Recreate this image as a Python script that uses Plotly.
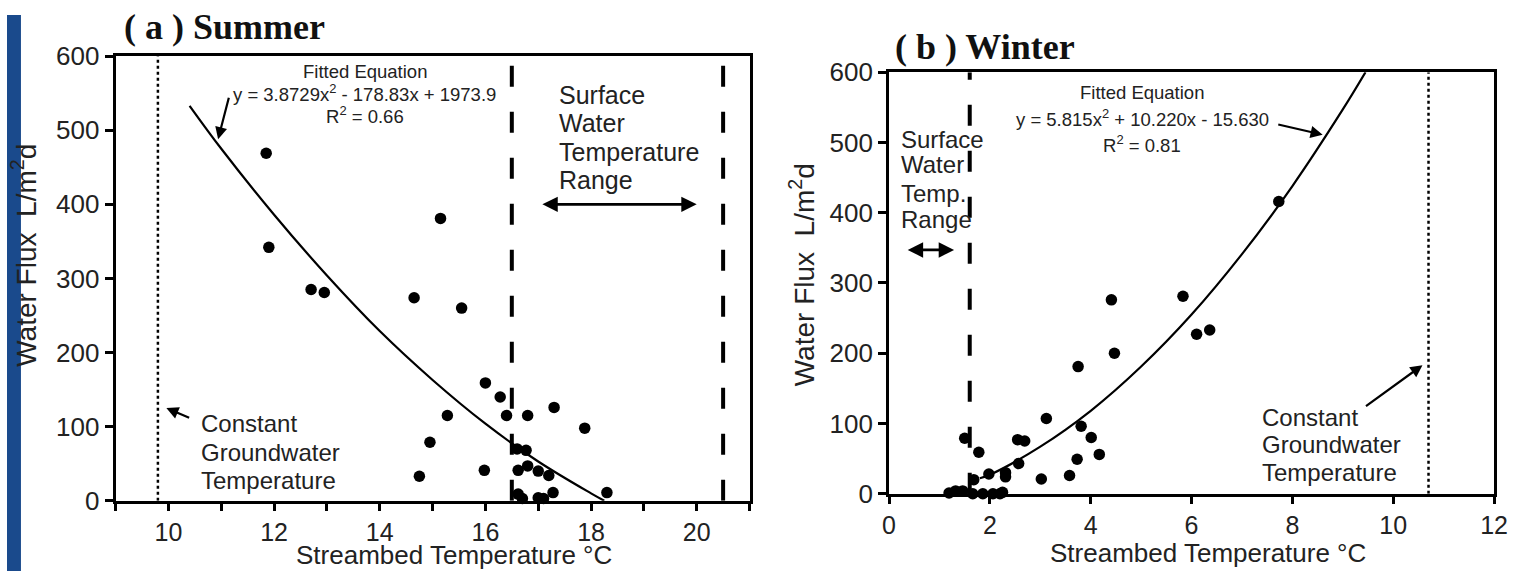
import plotly.graph_objects as go

# ---------------- data ----------------
summer_temp = [11.85, 11.9, 12.7, 12.95, 14.65, 15.15, 15.55, 16.0, 16.28, 15.28, 16.4, 16.8,
               17.3, 17.88, 14.95, 14.75, 15.98, 16.6, 16.77, 16.8, 16.62, 17.0, 17.2, 16.62,
               16.7, 17.0, 17.28, 17.1, 18.3]
summer_flux = [469, 342, 285, 281, 274, 381, 260, 159, 140, 115, 115, 115,
               126, 98, 79, 33, 41, 70, 68, 47, 41, 40, 34, 9,
               3, 4, 11, 3, 11]

winter_temp = [1.19, 1.32, 1.46, 1.5, 1.66, 1.68, 1.78, 1.86, 1.98, 2.06, 2.2, 2.25, 2.31, 2.31,
               2.55, 2.57, 2.69, 3.02, 3.12, 3.58, 3.73, 3.75, 3.81, 4.01, 4.17, 4.41, 4.47,
               5.83, 6.1, 6.36, 7.73]
winter_flux = [1, 4, 4, 79, 0, 20, 59, 0, 28, 0, 0, 2, 30, 24,
               77, 43, 75, 21, 107, 26, 49, 181, 96, 80, 56, 276, 200,
               281, 227, 233, 416]

# fitted curves
summer_fit_temp = [10.4, 11, 12, 13, 14, 15, 16, 17, 18, 18.25]
summer_fit_flux = [533, 475, 386, 304, 229, 163, 104, 53, 10, 0]
winter_fit_temp = [1.8, 2, 3, 4, 5, 6, 7, 8, 9, 9.45]
winter_fit_flux = [22, 27, 67, 118, 181, 255, 341, 438, 547, 600]

summer_gw_temp = 9.8
summer_sw_range = [16.5, 20.5]
winter_sw_upper = 1.6
winter_gw_temp = 10.7

y_limits = [0, 600]
summer_x_limits = [9, 21]
winter_x_limits = [0, 12]

summer_eq = ["Fitted Equation", "y = 3.8729x<sup>2</sup> - 178.83x + 1973.9", "R<sup>2</sup> = 0.66"]
winter_eq = ["Fitted Equation", "y = 5.815x<sup>2</sup> + 10.220x - 15.630", "R<sup>2</sup> = 0.81"]

# ---------------- figure ----------------
W, H = 1524, 586
# the photographed page appears inset (about 8 px sideways, 16 px vertically);
# positions below are given in picture pixels and mapped onto the page
SX, OX, SY, OY = 0.9895, 8.0, 0.9454, 16.0


def PX(X):
    return (X - OX) / SX / W


def PY(Y):
    return 1 - (Y - OY) / SY / H


SANS = "Liberation Sans, Arial, sans-serif"
SERIF = "Liberation Serif, Times New Roman, serif"
TXT = "#222222"
DASH = "21px,25px"

fig = go.Figure()

marker = dict(color="black", size=11.5)

# summer panel
fig.add_trace(go.Scatter(x=[summer_gw_temp] * 2, y=y_limits, mode="lines",
                         line=dict(color="black", width=2.5, dash="dot"), xaxis="x", yaxis="y"))
for xv in summer_sw_range:
    fig.add_trace(go.Scatter(x=[xv] * 2, y=y_limits, mode="lines",
                             line=dict(color="black", width=4, dash=DASH), xaxis="x", yaxis="y"))
fig.add_trace(go.Scatter(x=summer_fit_temp, y=summer_fit_flux, mode="lines", line_shape="spline",
                         line=dict(color="black", width=2.2), xaxis="x", yaxis="y"))
fig.add_trace(go.Scatter(x=summer_temp, y=summer_flux, mode="markers", marker=marker,
                         cliponaxis=False, xaxis="x", yaxis="y"))

# winter panel
fig.add_trace(go.Scatter(x=[winter_gw_temp] * 2, y=y_limits, mode="lines",
                         line=dict(color="black", width=2.5, dash="dot"), xaxis="x2", yaxis="y2"))
fig.add_trace(go.Scatter(x=[winter_sw_upper] * 2, y=y_limits, mode="lines",
                         line=dict(color="black", width=4, dash=DASH), xaxis="x2", yaxis="y2"))
fig.add_trace(go.Scatter(x=winter_fit_temp, y=winter_fit_flux, mode="lines", line_shape="spline",
                         line=dict(color="black", width=2.2), xaxis="x2", yaxis="y2"))
fig.add_trace(go.Scatter(x=winter_temp, y=winter_flux, mode="markers", marker=marker,
                         cliponaxis=False, xaxis="x2", yaxis="y2"))

axis_common = dict(showline=True, linecolor="black", linewidth=3, mirror=True,
                   ticks="outside", ticklen=8, tickwidth=3, tickcolor="black",
                   showgrid=False, zeroline=False,
                   tickfont=dict(family=SANS, size=26, color=TXT))
x_tickfont = dict(family=SANS, size=25, color=TXT)

fig.update_layout(
    width=W, height=H, autosize=False, showlegend=False,
    margin=dict(l=0, r=0, t=0, b=0),
    paper_bgcolor="white", plot_bgcolor="white",
    xaxis=dict(axis_common, domain=[PX(117), PX(753)], range=summer_x_limits, tick0=0, dtick=2,
               ticklen=7, tickfont=x_tickfont,
               minor=dict(dtick=1, ticks="outside", ticklen=7, tickwidth=3, tickcolor="black"),
               anchor="y"),
    yaxis=dict(axis_common, domain=[PY(500), PY(57)], range=y_limits, dtick=100, anchor="x"),
    xaxis2=dict(axis_common, domain=[PX(893), PX(1500)], range=winter_x_limits, dtick=2,
                ticklen=7, tickfont=x_tickfont, anchor="y2"),
    yaxis2=dict(axis_common, domain=[PY(493), PY(73)], range=y_limits, dtick=100, anchor="x2"),
    shapes=[dict(type="rect", xref="paper", yref="paper", x0=0, x1=PX(22), y0=0, y1=1,
                 fillcolor="#1a4a8c", line=dict(width=0), layer="below")],
)

ann = []


def ptext(text, px, py, size, family=SANS, angle=0, bold=False):
    ann.append(dict(text=f"<b>{text}</b>" if bold else text, xref="paper", yref="paper",
                    x=PX(px), y=PY(py), xanchor="center", yanchor="middle",
                    showarrow=False, textangle=angle,
                    font=dict(family=family, size=size, color="#111111" if bold else TXT)))


def dtext(text, x, y, xr, yr, size, anchor="left"):
    ann.append(dict(text=text, xref=xr, yref=yr, x=x, y=y, xanchor=anchor, yanchor="middle",
                    showarrow=False, font=dict(family=SANS, size=size, color=TXT)))


def arrow(hx, hy, tx, ty, xr, yr, both=False, width=2.2):
    ann.append(dict(text="", xref=xr, yref=yr, x=hx, y=hy, ax=tx, ay=ty, axref=xr, ayref=yr,
                    showarrow=True, arrowhead=2, arrowsize=1.1, arrowwidth=width,
                    arrowcolor="black", arrowside="end+start" if both else "end"))


# titles
ptext("( a ) Summer", 226, 28, 36, SERIF, bold=True)
ptext("( b ) Winter", 989, 48, 36, SERIF, bold=True)
ptext("Water Flux  L/m<sup>2</sup>d", 25, 255, 28, angle=-90)
ptext("Water Flux  L/m<sup>2</sup>d", 806, 275, 28, angle=-90)
ptext("Streambed Temperature °C", 456, 554, 26)
ptext("Streambed Temperature °C", 1213, 552, 26)

# summer annotations
for t, yv in zip(summer_eq, [579, 550, 521]):
    dtext(t, 13.72, yv, "x", "y", 18.5, anchor="center")
arrow(10.94, 488, 11.15, 546, "x", "y")
for t, yv in zip(["Surface", "Water", "Temperature", "Range"], [548, 510, 471, 433]):
    dtext(t, 17.36, yv, "x", "y", 25)
arrow(20.0, 400, 17.05, 400, "x", "y", both=True, width=2.8)
for t, yv in zip(["Constant", "Groundwater", "Temperature"], [104, 65, 27]):
    dtext(t, 10.57, yv, "x", "y", 24)
arrow(9.96, 125, 10.42, 111, "x", "y")

# winter annotations
for t, yv in zip(winter_eq, [571, 535, 498]):
    dtext(t, 5.02, yv, "x2", "y2", 18.5, anchor="center")
arrow(8.6, 511, 7.69, 526, "x2", "y2")
for t, yv in zip(["Surface", "Water", "Temp.", "Range"], [504, 468, 428, 390]):
    dtext(t, 0.2, yv, "x2", "y2", 24)
arrow(1.29, 347, 0.34, 347, "x2", "y2", both=True, width=2.8)
for t, yv in zip(["Constant", "Groundwater", "Temperature"], [108, 70, 30]):
    dtext(t, 7.35, yv, "x2", "y2", 24)
arrow(10.58, 183, 9.43, 123, "x2", "y2")

fig.update_layout(annotations=ann)

fig.write_html(
    "out.html",
    config={"displayModeBar": False},
    post_script=(
        "document.documentElement.style.margin='0';"
        "document.body.style.margin='0';document.body.style.padding='0';"
        "document.body.style.overflow='hidden';"
        "var d=document.getElementById('{plot_id}');"
        "d.style.position='fixed';d.style.left='0px';d.style.top='0px';"
    ),
)
